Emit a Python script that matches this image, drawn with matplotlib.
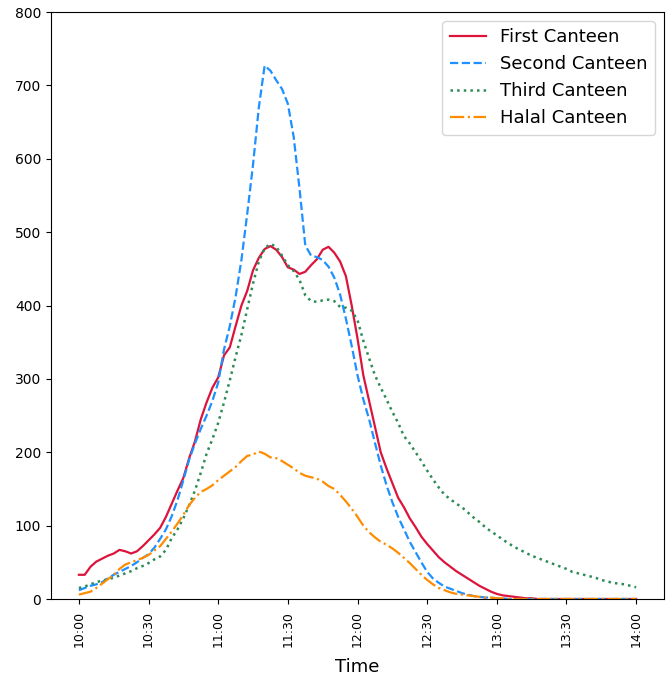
import numpy as np
import matplotlib
matplotlib.use('Agg')
import matplotlib.pyplot as plt

# minutes after 10:00, sampled every 2.5 min
minutes = np.arange(0, 240.1, 2.5)

first = [33, 33, 44, 51, 55, 59, 62, 67, 65, 62, 65, 72, 80, 88, 97, 112, 130, 148, 165, 192,
         215, 245, 268, 288, 302, 332, 343, 372, 400, 420, 448, 465, 477, 481, 476, 466, 452, 449, 443, 446,
         455, 463, 476, 480, 472, 460, 440, 400, 355, 305, 270, 235, 200, 178, 158, 138, 125, 110, 98, 85,
         75, 66, 57, 50, 44, 38, 33, 28, 23, 18, 14, 10, 7, 5, 4, 3, 2, 1, 1, 0,
         0, 0, 0, 0, 0, 0, 0, 0, 0, 0, 0, 0, 0, 0, 0, 0, 0]

second = [12, 15, 18, 20, 23, 28, 33, 37, 41, 45, 50, 56, 61, 70, 82, 95, 113, 135, 162, 190,
          212, 232, 250, 270, 295, 340, 372, 412, 462, 525, 592, 670, 727, 720, 707, 695, 675, 630, 560, 482,
          468, 466, 462, 453, 438, 415, 382, 345, 305, 272, 245, 213, 182, 155, 132, 112, 95, 78, 64, 50,
          37, 28, 22, 17, 14, 11, 8, 6, 4, 3, 2, 2, 1, 1, 0, 0, 0, 0, 0, 0,
          0, 0, 0, 0, 0, 0, 0, 0, 0, 0, 0, 0, 0, 0, 0, 0, 0]

third = [15, 17, 20, 23, 25, 27, 29, 32, 35, 38, 42, 45, 49, 54, 58, 67, 83, 95, 110, 128,
         148, 172, 198, 218, 240, 268, 298, 330, 360, 395, 430, 460, 478, 484, 480, 468, 455, 447, 435, 414,
         406, 405, 407, 408, 406, 398, 397, 393, 380, 352, 328, 305, 288, 272, 255, 240, 222, 212, 200, 188,
         175, 163, 152, 142, 136, 130, 125, 118, 111, 105, 98, 92, 87, 81, 76, 71, 67, 63, 59, 56,
         53, 50, 47, 44, 41, 37, 35, 33, 31, 29, 26, 24, 22, 21, 20, 18, 16]

halal = [6, 8, 10, 15, 21, 27, 33, 41, 47, 50, 53, 56, 60, 66, 72, 82, 92, 103, 115, 128,
         138, 146, 150, 155, 162, 168, 174, 180, 188, 195, 197, 201, 198, 193, 192, 188, 183, 178, 172, 168,
         166, 164, 160, 154, 150, 142, 133, 123, 112, 100, 91, 84, 78, 74, 69, 63, 56, 49, 41, 33,
         26, 20, 15, 12, 9, 7, 6, 5, 4, 3, 2, 2, 1, 1, 0, 0, 0, 0, 0, 0,
         0, 0, 0, 0, 0, 0, 0, 0, 0, 0, 0, 0, 0, 0, 0, 0, 0]

tick_pos = [0, 30, 60, 90, 120, 150, 180, 210, 240]
tick_labels = ['10:00', '10:30', '11:00', '11:30', '12:00', '12:30', '13:00', '13:30', '14:00']


def main():
    fig = plt.figure(figsize=(6.67, 6.79), dpi=100)
    ax = fig.add_axes([0.0765, 0.1178, 0.919, 0.8645])

    ax.plot(minutes, first, color='crimson', linestyle='-', linewidth=1.6, label='First Canteen')
    ax.plot(minutes, second, color='dodgerblue', linestyle='--', linewidth=1.6, label='Second Canteen')
    ax.plot(minutes, third, color='seagreen', linestyle=':', linewidth=1.8, label='Third Canteen')
    ax.plot(minutes, halal, color='darkorange', linestyle='-.', linewidth=1.6, label='Halal Canteen')

    ax.set_ylim(0, 800)
    ax.set_xlim(-12, 252)
    ax.set_xticks(tick_pos)
    ax.set_xticklabels(tick_labels, rotation=90, fontsize=9)
    ax.tick_params(axis='x', pad=5)
    ax.tick_params(axis='y', labelsize=10)
    ax.set_xlabel('Time', fontsize=13, labelpad=8)
    ax.legend(loc='upper right', fontsize=13)

    fig.savefig('out.png', dpi=100)


if __name__ == '__main__':
    main()
